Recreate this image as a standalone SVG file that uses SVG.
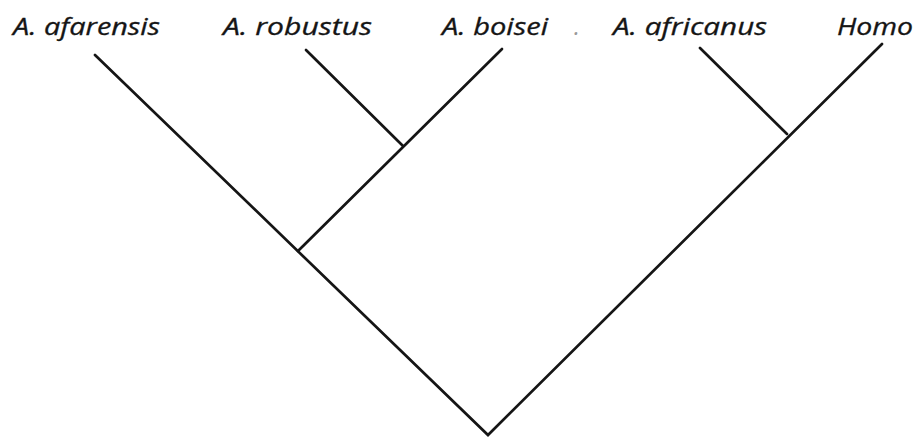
<svg xmlns="http://www.w3.org/2000/svg" width="919" height="441" viewBox="0 0 919 441">
<style>
.lbl{font-family:"Open Sans","Liberation Sans",sans-serif;font-style:italic;font-size:23px;fill:#151515;stroke:#151515;stroke-width:0.3}
.br{stroke:#151515;stroke-width:2.7;fill:none;stroke-linecap:round;stroke-linejoin:miter}
</style>
<rect width="919" height="441" fill="#fff"/>
<g id="connectors">
<path class="br" d="M95,55 L488,435 L882,44"/>
<path class="br" d="M298,251 L502,49"/>
<path class="br" d="M306,50 L403,146"/>
<path class="br" d="M700,48 L787,134"/>
</g>
<g id="n-afarensis"><text class="lbl" x="13" y="35" textLength="147" lengthAdjust="spacingAndGlyphs">A. afarensis</text></g>
<g id="n-robustus"><text class="lbl" x="223" y="35" textLength="149" lengthAdjust="spacingAndGlyphs">A. robustus</text></g>
<g id="n-boisei"><text class="lbl" x="442" y="35" textLength="106" lengthAdjust="spacingAndGlyphs">A. boisei</text></g>
<g id="n-dot"><text class="lbl" x="574" y="35" style="fill:#999;stroke:none">.</text></g>
<g id="n-africanus"><text class="lbl" x="613" y="35" textLength="154" lengthAdjust="spacingAndGlyphs">A. africanus</text></g>
<g id="n-homo"><text class="lbl" x="837" y="35" textLength="76" lengthAdjust="spacingAndGlyphs">Homo</text></g>
</svg>
